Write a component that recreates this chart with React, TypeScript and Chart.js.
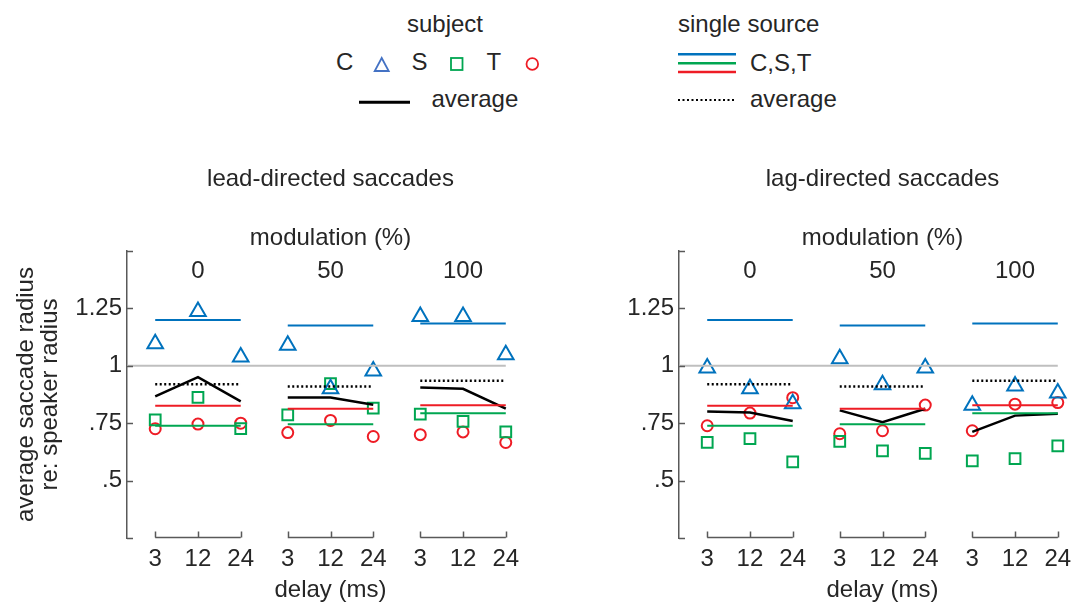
import React, { useEffect, useRef } from 'react';
import { Chart, registerables } from 'chart.js';

Chart.register(...registerables);

const FONT = "'Liberation Sans', Arial, Helvetica, sans-serif";
const FONT_SIZE = 24;
const TEXT = '#262626';
const AXIS = '#595959';
const BLUE = '#0072BD';
const GREEN = '#00A651';
const RED = '#EE1C25';
const GRAY = '#BFBFBF';

// categories / tick labels
const delayLabels = ['3', '12', '24'];
const modulationLabels = ['0', '50', '100'];
const xPositions = [0, 1, 2, 3.1, 4.1, 5.1, 6.2, 7.2, 8.2];
const xMin = -0.66;
const xMax = 8.86;
const yMin = 0.25;
const yMax = 1.5;
const yTickValues = [0.25, 0.5, 0.75, 1, 1.25, 1.5];
const yTickLabels = ['', '.5', '.75', '1', '1.25', ''];
const referenceValue = 1;
const subjectNames = ['C', 'S', 'T'];

// lead-directed saccades (order: mod 0 [3,12,24], mod 50 [3,12,24], mod 100 [3,12,24])
const leadC = [1.096, 1.236, 1.038, 1.089, 0.9, 0.977, 1.215, 1.215, 1.048];
const leadS = [0.765, 0.862, 0.726, 0.786, 0.922, 0.816, 0.79, 0.758, 0.712];
const leadT = [0.726, 0.746, 0.75, 0.709, 0.762, 0.692, 0.7, 0.712, 0.666];
const leadAvg = [0.867, 0.951, 0.845, 0.862, 0.862, 0.83, 0.906, 0.9, 0.813];

// lag-directed saccades
const lagC = [0.99, 0.9, 0.835, 1.031, 0.918, 0.99, 0.828, 0.912, 0.881];
const lagS = [0.667, 0.683, 0.582, 0.671, 0.63, 0.619, 0.586, 0.596, 0.651];
const lagT = [0.739, 0.794, 0.861, 0.704, 0.717, 0.829, 0.717, 0.833, 0.84];
const lagAvg = [0.801, 0.797, 0.76, 0.806, 0.754, 0.813, 0.712, 0.783, 0.791];

// single source (per modulation level)
const singleC = [1.199, 1.175, 1.184];
const singleS = [0.739, 0.745, 0.793];
const singleT = [0.826, 0.813, 0.828];
const singleAvg = [0.92, 0.91, 0.935];

type Pt = { x: number; y: number | null };

function markerSet(label: string, values: number[], style: string, color: string, radius: number) {
  return {
    label,
    data: values.map((v, i) => ({ x: xPositions[i], y: v })),
    showLine: false,
    pointStyle: style,
    pointRadius: radius,
    pointHoverRadius: radius,
    pointBorderWidth: 2,
    borderColor: color,
    pointBorderColor: color,
    backgroundColor: 'rgba(0,0,0,0)',
    pointBackgroundColor: 'rgba(0,0,0,0)',
  };
}

function groupLine(label: string, values: number[], color: string, width: number) {
  const data: Pt[] = [];
  for (let g = 0; g < 3; g++) {
    for (let k = 0; k < 3; k++) data.push({ x: xPositions[3 * g + k], y: values[3 * g + k] });
    if (g < 2) data.push({ x: (xPositions[3 * g + 2] + xPositions[3 * g + 3]) / 2, y: null });
  }
  return {
    label,
    data,
    borderColor: color,
    borderWidth: width,
    pointRadius: 0,
    spanGaps: false,
    fill: false,
    tension: 0,
  };
}

function sourceLine(label: string, values: number[], color: string, width: number, dash: number[] = []) {
  const data: Pt[] = [];
  for (let g = 0; g < 3; g++) {
    data.push({ x: xPositions[3 * g], y: values[g] });
    data.push({ x: xPositions[3 * g + 2], y: values[g] });
    if (g < 2) data.push({ x: (xPositions[3 * g + 2] + xPositions[3 * g + 3]) / 2, y: null });
  }
  return {
    label,
    data,
    borderColor: color,
    borderWidth: width,
    borderDash: dash,
    pointRadius: 0,
    spanGaps: false,
    fill: false,
    tension: 0,
  };
}

const decorations = {
  id: 'decorations',
  afterDraw(chart: any, _args: any, opts: any) {
    const { ctx, chartArea } = chart;
    const x = chart.scales.x;
    const y = chart.scales.y;
    ctx.save();
    ctx.strokeStyle = AXIS;
    ctx.lineWidth = 1.5;
    // inward y ticks
    yTickValues.forEach((v) => {
      const py = Math.round(y.getPixelForValue(v)) + 0.5;
      ctx.beginPath();
      ctx.moveTo(chartArea.left, py);
      ctx.lineTo(chartArea.left + 6, py);
      ctx.stroke();
    });
    // x brackets per modulation group
    const b = chartArea.bottom - 0.5;
    for (let g = 0; g < 3; g++) {
      const x0 = x.getPixelForValue(xPositions[3 * g]);
      const x2 = x.getPixelForValue(xPositions[3 * g + 2]);
      ctx.beginPath();
      ctx.moveTo(x0, b);
      ctx.lineTo(x2, b);
      for (let k = 0; k < 3; k++) {
        const px = Math.round(x.getPixelForValue(xPositions[3 * g + k])) + 0.5;
        ctx.moveTo(px, b);
        ctx.lineTo(px, b - 6);
      }
      ctx.stroke();
    }
    // titles
    ctx.fillStyle = TEXT;
    ctx.font = `${FONT_SIZE}px ${FONT}`;
    ctx.textAlign = 'center';
    ctx.textBaseline = 'alphabetic';
    const cx = x.getPixelForValue(xPositions[4]);
    ctx.fillText(opts.title, cx, chartArea.top - 65);
    ctx.fillText('modulation (%)', cx, chartArea.top - 6);
    modulationLabels.forEach((m, g) => {
      ctx.fillText(m, x.getPixelForValue(xPositions[3 * g + 1]), chartArea.top + 26.5);
    });
    ctx.restore();
  },
};

function makeConfig(title: string, c: number[], s: number[], t: number[], avg: number[], showYTitle: boolean) {
  const font = { family: FONT, size: FONT_SIZE };
  return {
    type: 'line',
    data: {
      datasets: [
        {
          label: 'reference',
          data: [
            { x: xMin, y: referenceValue },
            { x: xPositions[8], y: referenceValue },
          ],
          borderColor: GRAY,
          borderWidth: 2,
          pointRadius: 0,
          fill: false,
        },
        sourceLine('single C', singleC, BLUE, 2),
        sourceLine('single S', singleS, GREEN, 2),
        sourceLine('single T', singleT, RED, 2),
        sourceLine('single average', singleAvg, '#000000', 2.5, [2, 2.5]),
        groupLine('subject average', avg, '#000000', 2.5),
        markerSet(subjectNames[0], c, 'triangle', BLUE, 9),
        markerSet(subjectNames[1], s, 'rect', GREEN, 7.6),
        markerSet(subjectNames[2], t, 'circle', RED, 5.5),
      ],
    },
    options: {
      animation: false,
      responsive: false,
      devicePixelRatio: 1,
      layout: { padding: { left: 0, right: 5, top: 101, bottom: 0 } },
      plugins: {
        legend: { display: false },
        tooltip: { enabled: false },
        decorations: { title },
      },
      scales: {
        x: {
          type: 'linear',
          min: xMin,
          max: xMax,
          afterBuildTicks: (sc: any) => {
            sc.ticks = xPositions.map((v) => ({ value: v }));
          },
          afterFit: (sc: any) => {
            sc.height = 67;
          },
          grid: { display: false, drawTicks: false },
          border: { display: false },
          ticks: {
            autoSkip: false,
            maxRotation: 0,
            padding: 7,
            color: TEXT,
            font,
            callback: (_v: any, i: number) => delayLabels[i % 3],
          },
          title: {
            display: true,
            text: 'delay (ms)',
            color: TEXT,
            font,
            padding: { top: 0, bottom: 0 },
          },
        },
        y: {
          type: 'linear',
          min: yMin,
          max: yMax,
          afterBuildTicks: (sc: any) => {
            sc.ticks = yTickValues.map((v) => ({ value: v }));
          },
          afterFit: (sc: any) => {
            sc.width = 127;
          },
          grid: { display: false, drawTicks: false },
          border: { display: true, color: AXIS, width: 1.5 },
          ticks: {
            autoSkip: false,
            padding: 5,
            color: TEXT,
            font,
            callback: (_v: any, i: number) => yTickLabels[i],
          },
          title: {
            display: showYTitle,
            text: ['average saccade radius', 're: speaker radius'],
            color: TEXT,
            font: { family: FONT, size: FONT_SIZE, lineHeight: 1 },
            padding: { top: 14, bottom: 0 },
          },
        },
      },
    },
    plugins: [decorations],
  };
}

function Legend() {
  const tri = (cx: number, cy: number, w: number, h: number) =>
    `${cx},${cy - h / 2} ${cx - w / 2},${cy + h / 2} ${cx + w / 2},${cy + h / 2}`;
  return (
    <svg
      width={1089}
      height={130}
      style={{ position: 'absolute', left: 0, top: 0 }}
      fontFamily={FONT}
      fontSize={FONT_SIZE}
      fill={TEXT}
    >
      <text x={445} y={32} textAnchor="middle">subject</text>
      <text x={336} y={70}>{subjectNames[0]}</text>
      <polygon points={tri(381.7, 64.5, 14, 13)} fill="none" stroke="#4472C4" strokeWidth={1.8} />
      <text x={411.5} y={70}>{subjectNames[1]}</text>
      <rect x={451} y={58} width={11.5} height={12} fill="none" stroke={GREEN} strokeWidth={1.8} />
      <text x={486.5} y={70}>{subjectNames[2]}</text>
      <circle cx={532.3} cy={64} r={5.8} fill="none" stroke={RED} strokeWidth={1.8} />
      <line x1={359} x2={410} y1={102.3} y2={102.3} stroke="#000" strokeWidth={3} />
      <text x={431.5} y={107}>average</text>

      <text x={678} y={32}>single source</text>
      <line x1={678} x2={736} y1={54.3} y2={54.3} stroke={BLUE} strokeWidth={2.5} />
      <line x1={678} x2={736} y1={63.3} y2={63.3} stroke={GREEN} strokeWidth={2.5} />
      <line x1={678} x2={736} y1={72} y2={72} stroke={RED} strokeWidth={2.5} />
      <text x={750} y={71}>C,S,T</text>
      <line x1={678} x2={735} y1={100} y2={100} stroke="#000" strokeWidth={2} strokeDasharray="2 2.5" />
      <text x={750} y={107}>average</text>
    </svg>
  );
}

export default function App() {
  const leftRef = useRef<HTMLCanvasElement | null>(null);
  const rightRef = useRef<HTMLCanvasElement | null>(null);

  useEffect(() => {
    const charts: Chart[] = [];
    if (leftRef.current) {
      charts.push(
        new Chart(leftRef.current, makeConfig('lead-directed saccades', leadC, leadS, leadT, leadAvg, true) as any)
      );
    }
    if (rightRef.current) {
      charts.push(
        new Chart(rightRef.current, makeConfig('lag-directed saccades', lagC, lagS, lagT, lagAvg, false) as any)
      );
    }
    return () => charts.forEach((c) => c.destroy());
  }, []);

  return (
    <div
      style={{
        position: 'fixed',
        left: 0,
        top: 0,
        width: 1089,
        height: 605,
        overflow: 'hidden',
        background: '#ffffff',
      }}
    >
      <Legend />
      <canvas ref={leftRef} width={545} height={455} style={{ position: 'absolute', left: 0, top: 150 }} />
      <canvas ref={rightRef} width={545} height={455} style={{ position: 'absolute', left: 552, top: 150 }} />
    </div>
  );
}
